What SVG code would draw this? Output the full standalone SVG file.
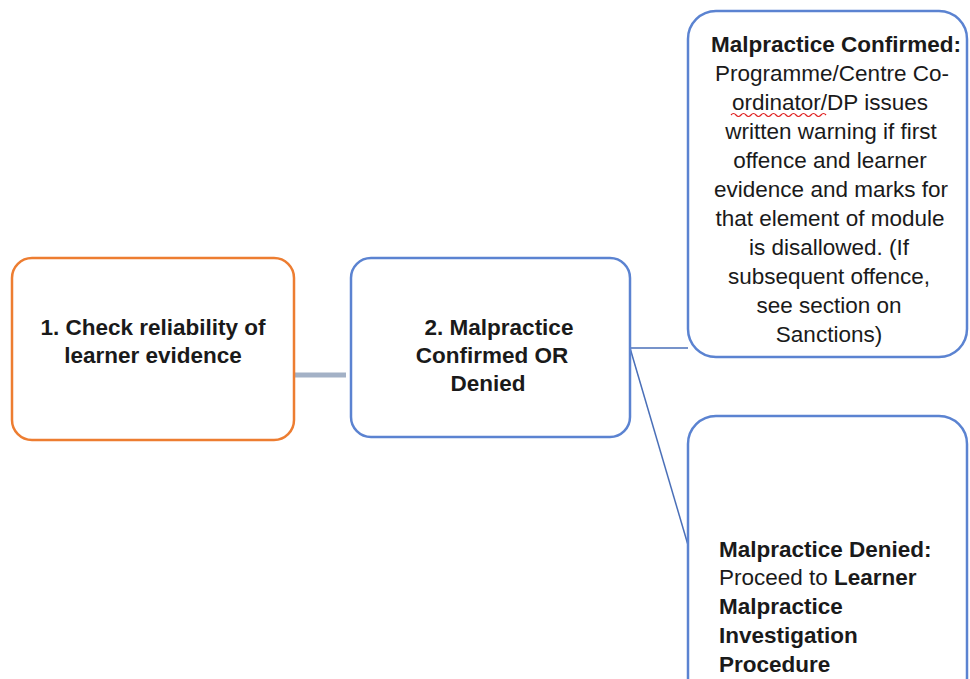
<svg xmlns="http://www.w3.org/2000/svg" width="970" height="679" viewBox="0 0 970 679">
<style>
.box{fill:#fff;stroke-width:2.5}
.o{stroke:#ED7D31}
.b{stroke:#5B83D1}
text{font-family:"Liberation Sans",Arial,sans-serif;font-size:22.5px;fill:#1a1a1a}
.bd{font-weight:bold}
.c{text-anchor:middle}
</style>
<rect width="970" height="679" fill="#fff"/>
<g id="connectors">
<line x1="291" y1="375" x2="346" y2="375" stroke="#A3B1C6" stroke-width="5"/>
<line x1="630" y1="348" x2="688" y2="348" stroke="#4A6FB8" stroke-width="1.5"/>
<line x1="630" y1="348" x2="688" y2="545" stroke="#4A6FB8" stroke-width="1.5"/>
</g>
<g id="n1">
<rect class="box o" x="12" y="258" width="282" height="182" rx="20"/>
<text class="bd c" x="153" y="335">1. Check reliability of</text>
<text class="bd c" x="153" y="363">learner evidence</text>
</g>
<g id="n2">
<rect class="box b" x="351" y="258" width="279" height="179" rx="20"/>
<text class="bd c" x="499" y="335">2. Malpractice</text>
<text class="bd c" x="492" y="363">Confirmed OR</text>
<text class="bd c" x="488" y="391">Denied</text>
</g>
<g id="n3">
<rect class="box b" x="688" y="11" width="279" height="346" rx="28"/>
<text class="bd c" x="836" y="52">Malpractice Confirmed:</text>
<text class="c" x="832" y="81">Programme/Centre Co-</text>
<text class="c" x="830" y="110">ordinator/DP issues</text>
<text class="c" x="831" y="139">written warning if first</text>
<text class="c" x="830" y="168">offence and learner</text>
<text class="c" x="831" y="197">evidence and marks for</text>
<text class="c" x="830" y="226">that element of module</text>
<text class="c" x="829" y="255">is disallowed. (If</text>
<text class="c" x="829" y="284">subsequent offence,</text>
<text class="c" x="829" y="313">see section on</text>
<text class="c" x="829" y="342">Sanctions)</text>
<path d="M731 115 q2.5 -3 5 0 t5 0 t5 0 t5 0 t5 0 t5 0 t5 0 t5 0 t5 0 t5 0 t5 0 t5 0 t5 0 t5 0 t5 0 t5 0 t5 0 t5 0 t5 0" fill="none" stroke="#E02020" stroke-width="1.2"/>
</g>
<g id="n4">
<rect class="box b" x="688" y="416" width="279" height="290" rx="28"/>
<text class="bd" x="719" y="557">Malpractice Denied:</text>
<text x="719" y="585">Proceed to <tspan class="bd">Learner</tspan></text>
<text class="bd" x="719" y="614">Malpractice</text>
<text class="bd" x="719" y="643">Investigation</text>
<text class="bd" x="719" y="672">Procedure</text>
</g>
</svg>
